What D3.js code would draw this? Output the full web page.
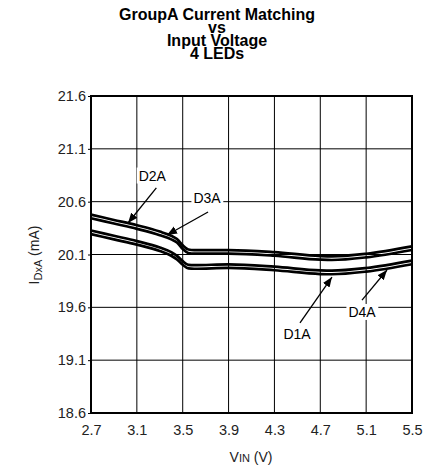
<!DOCTYPE html>
<html><head><meta charset="utf-8">
<script src="https://cdn.jsdelivr.net/npm/d3@7"></script>
<style>body{margin:0;background:#fff}svg{display:block}text{font-family:"Liberation Sans",Arial,sans-serif}</style>
</head><body><svg id="c" width="435" height="471"></svg>
<script>
const titleLines = ["GroupA Current Matching", "vs", "Input Voltage", "4 LEDs"];
const vin = [2.7, 2.9, 3.1, 3.3, 3.4, 3.45, 3.5, 3.55, 3.6, 3.9, 4.3, 4.7, 4.8, 5.1, 5.5];
const d2a = [20.477, 20.427, 20.377, 20.317, 20.277, 20.247, 20.187, 20.147, 20.142, 20.142, 20.122, 20.085, 20.082, 20.107, 20.177];
const d3a = [20.443, 20.393, 20.343, 20.283, 20.243, 20.213, 20.153, 20.113, 20.108, 20.108, 20.088, 20.051, 20.048, 20.073, 20.143];
const d4a = [20.327, 20.277, 20.227, 20.167, 20.122, 20.087, 20.037, 20.002, 19.999, 20.007, 19.985, 19.949, 19.947, 19.972, 20.042];
const d1a = [20.293, 20.243, 20.193, 20.133, 20.088, 20.053, 20.003, 19.968, 19.965, 19.973, 19.951, 19.915, 19.913, 19.938, 20.008];
const xTicks = [2.7, 3.1, 3.5, 3.9, 4.3, 4.7, 5.1, 5.5];
const yTicks = [18.6, 19.1, 19.6, 20.1, 20.6, 21.1, 21.6];
const labelNames = ["D2A", "D3A", "D1A", "D4A"];
const labelAt = [[3.235, 20.80], [3.712, 20.587], [4.497, 19.30], [5.064, 19.509]];
const arrowFrom = [[3.27, 20.73], [3.721, 20.502], [4.523, 19.452], [5.064, 19.669]];
const arrowTo = [[3.023, 20.398], [3.363, 20.285], [4.802, 19.887], [5.282, 19.953]];

const svg = d3.select("#c");
const L = 91, R = 412, T = 96, B = 413;
const x = d3.scaleLinear().domain([2.7, 5.5]).range([L, R]);
const y = d3.scaleLinear().domain([18.6, 21.6]).range([B, T]);

svg.append("defs").append("marker").attr("id", "ah").attr("viewBox", "0 0 10 10")
  .attr("refX", 10).attr("refY", 5).attr("markerWidth", 10).attr("markerHeight", 10)
  .attr("markerUnits", "userSpaceOnUse").attr("orient", "auto")
  .append("path").attr("d", "M0,1 L10,5 L0,9 Z").attr("fill", "#000");

// title
svg.append("g").selectAll("text").data(titleLines).join("text")
  .attr("x", 217).attr("y", (d, i) => 20 + i * 13).attr("text-anchor", "middle")
  .attr("font-size", 16).attr("font-weight", "bold").attr("fill", "#000").text(d => d);

// grid
const g = svg.append("g");
g.selectAll(".vg").data(xTicks.slice(1, -1)).join("line")
  .attr("x1", d => x(d)).attr("x2", d => x(d)).attr("y1", T).attr("y2", B)
  .attr("stroke", "#000").attr("stroke-width", 1);
g.selectAll(".hg").data(yTicks.slice(1, -1)).join("line")
  .attr("x1", L).attr("x2", R).attr("y1", d => y(d)).attr("y2", d => y(d))
  .attr("stroke", "#000").attr("stroke-width", 1);

// axes
const xa = svg.append("g").attr("transform", `translate(0,${B})`)
  .call(d3.axisBottom(x).tickValues(xTicks).tickSize(0).tickPadding(12).tickFormat(d3.format(".1f")));
const ya = svg.append("g").attr("transform", `translate(${L},0)`)
  .call(d3.axisLeft(y).tickValues(yTicks).tickSize(3).tickPadding(2).tickFormat(d3.format(".1f")));
[xa, ya].forEach(a => {
  a.select(".domain").remove();
  a.selectAll("text").attr("font-size", 14.5).attr("fill", "#222").style("font-family", "Liberation Sans, Arial, sans-serif");
  a.selectAll("line").attr("stroke", "#000");
});
svg.append("rect").attr("x", L).attr("y", T).attr("width", R - L).attr("height", B - T)
  .attr("fill", "none").attr("stroke", "#000").attr("stroke-width", 2);

// curves
const series = [d2a, d3a, d4a, d1a];
const line = d3.line().x(d => x(d[0])).y(d => y(d[1])).curve(d3.curveMonotoneX);
svg.append("g").selectAll("path").data(series).join("path")
  .attr("d", s => line(vin.map((v, i) => [v, s[i]])))
  .attr("fill", "none").attr("stroke", "#000").attr("stroke-width", 2.7);

// annotations
const ann = svg.append("g");
labelNames.forEach((n, i) => {
  ann.append("line")
    .attr("x1", x(arrowFrom[i][0])).attr("y1", y(arrowFrom[i][1]))
    .attr("x2", x(arrowTo[i][0])).attr("y2", y(arrowTo[i][1]))
    .attr("stroke", "#000").attr("stroke-width", 1.3).attr("marker-end", "url(#ah)");
  const t = ann.append("text").attr("x", x(labelAt[i][0])).attr("y", y(labelAt[i][1]))
    .attr("text-anchor", "middle").attr("font-size", 14).attr("fill", "#000").text(n);
  const bb = t.node().getBBox();
  ann.insert("rect", () => t.node()).attr("x", bb.x - 2).attr("y", bb.y).attr("width", bb.width + 4)
    .attr("height", bb.height).attr("fill", "#fff");
});

// axis titles
const xt = svg.append("text").attr("x", 251).attr("y", 462).attr("text-anchor", "middle")
  .attr("font-size", 14).attr("fill", "#222");
xt.append("tspan").text("V");
xt.append("tspan").attr("font-size", 11).text("IN");
xt.append("tspan").text(" (V)");
const yt = svg.append("text").attr("transform", "translate(39,255) rotate(-90)").attr("text-anchor", "middle")
  .attr("font-size", 14).attr("fill", "#222");
yt.append("tspan").text("I");
yt.append("tspan").attr("font-size", 11).attr("dy", 3).text("DxA");
yt.append("tspan").attr("dy", -3).text(" (mA)");
</script></body></html>
